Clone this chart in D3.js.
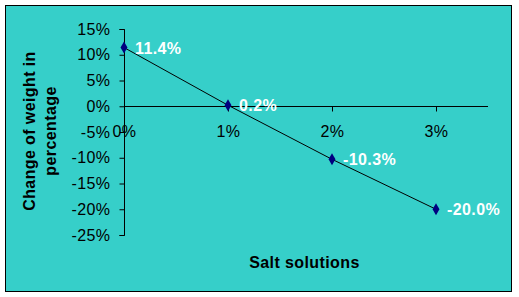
<!DOCTYPE html>
<html>
<head>
<meta charset="utf-8">
<title>Salt solutions</title>
<style>
  body { margin: 0; background: #fff; }
  text { font-family: 'Liberation Sans', Arial, sans-serif; letter-spacing: 0.4px; }
</style>
<script src="https://d3js.org/d3.v7.min.js"></script>
</head>
<body>
<div id="chart"></div>
<script>
// ******* Data *******
const categories = ["0%", "1%", "2%", "3%"];
const values = [11.4, 0.2, -10.3, -20.0];
const labels = ["11.4%", "0.2%", "-10.3%", "-20.0%"];
const yTicks = [15, 10, 5, 0, -5, -10, -15, -20, -25];

const width = 519, height = 297;

var svg = d3.select("#chart").append("svg")
    .attr("width", width)
    .attr("height", height);

// chart area with border
svg.append("rect")
    .attr("x", 5.5).attr("y", 5.5)
    .attr("width", 506).attr("height", 286)
    .attr("fill", "#36cfc9")
    .attr("stroke", "#000")
    .attr("stroke-width", 1);

// ******* Scales *******
var x = d3.scaleLinear()
    .domain([0, 3.5])
    .range([124, 488]);
var y = d3.scaleLinear()
    .domain([-25, 15])
    .range([235, 29]);

// ******* Y axis *******
var yAxis = svg.append("g")
    .attr("transform", "translate(124.5,0)")
    .call(d3.axisLeft(y).tickValues(yTicks).tickSize(5).tickPadding(9)
        .tickFormat(function(d) { return d + "%"; }));
yAxis.select(".domain").attr("stroke", "#000").attr("d", "M-5," + (y(15) + 0.5) + "H0V" + (y(-25) + 0.5) + "H-5");
yAxis.selectAll(".tick line").attr("stroke", "#000");
yAxis.selectAll(".tick text")
    .attr("font-size", 16)
    .attr("font-family", "'Liberation Sans', Arial, sans-serif")
    .attr("fill", "#000");

// ******* X axis (at 0) *******
var xAxis = svg.append("g")
    .attr("transform", "translate(0," + (Math.round(y(0)) + 0.5) + ")")
    .call(d3.axisBottom(x).tickValues([0, 1, 2, 3]).tickSize(5).tickPadding(14)
        .tickFormat(function(d) { return categories[d]; }));
xAxis.select(".domain").attr("stroke", "#000").attr("d", "M" + x(0) + ",0H" + x(3.5));
xAxis.selectAll(".tick line").attr("stroke", "#000");
xAxis.selectAll(".tick text")
    .attr("font-size", 16)
    .attr("font-family", "'Liberation Sans', Arial, sans-serif")
    .attr("fill", "#000");

// ******* Line + markers *******
var line = d3.line()
    .x(function(d, i) { return x(i); })
    .y(function(d) { return y(d); });

svg.append("path")
    .datum(values)
    .attr("d", line)
    .attr("fill", "none")
    .attr("stroke", "#000")
    .attr("stroke-width", 1);

svg.selectAll(".marker")
    .data(values)
    .enter()
    .append("path")
    .attr("class", "marker")
    .attr("d", d3.symbol().type(d3.symbolDiamond).size(42))
    .attr("transform", function(d, i) { return "translate(" + x(i) + "," + y(d) + ")"; })
    .attr("fill", "#000080");

// data labels
svg.selectAll(".dlabel")
    .data(values)
    .enter()
    .append("text")
    .attr("class", "dlabel")
    .attr("x", function(d, i) { return x(i) + 11; })
    .attr("y", function(d) { return y(d) + 6; })
    .attr("font-size", 16)
    .attr("font-weight", "bold")
    .attr("fill", "#fff")
    .text(function(d, i) { return labels[i]; });

// ******* Axis titles *******
svg.append("text")
    .attr("x", 304.5).attr("y", 268)
    .attr("text-anchor", "middle")
    .attr("font-size", 16)
    .attr("font-weight", "bold")
    .text("Salt solutions");

var yt = svg.append("text")
    .attr("transform", "translate(35,131) rotate(-90)")
    .attr("text-anchor", "middle")
    .attr("font-size", 16)
    .attr("font-weight", "bold");
yt.append("tspan").attr("x", 0).attr("dy", 0).text("Change of weight in");
yt.append("tspan").attr("x", 0).attr("dy", 21).text("percentage");
</script>
</body>
</html>
